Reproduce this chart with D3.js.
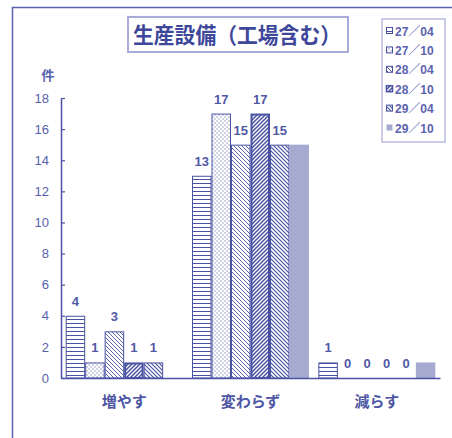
<!DOCTYPE html>
<html>
<head>
<meta charset="utf-8">
<script src="https://cdn.jsdelivr.net/npm/d3@7"></script>
<style>
  html, body { margin: 0; padding: 0; background: #fff; }
  svg { display: block; }
  text { font-family: "Liberation Sans", "Noto Sans CJK JP", sans-serif; }
  .jp { font-family: "Noto Sans CJK JP", sans-serif; }
</style>
</head>
<body>
<svg id="chart" width="452" height="438"></svg>
<script>
// 生産設備（工場含む）: responses per survey period
const categories = ["増やす", "変わらず", "減らす"];
const seriesNames = ["27／04", "27／10", "28／04", "28／10", "29／04", "29／10"];
const s2704 = [4, 13, 1];
const s2710 = [1, 17, 0];
const s2804 = [3, 15, 0];
const s2810 = [1, 17, 0];
const s2904 = [1, 15, 0];
const s2910 = [0, 15, 1];
const seriesValues = [s2704, s2710, s2804, s2810, s2904, s2910];
const labelled = [true, true, true, true, true, false];
const yTicks = [0, 2, 4, 6, 8, 10, 12, 14, 16, 18];

const ink = "#4a53a3";
const textInk = "#5660ad";
const lavender = "#a6a9d0";

const svg = d3.select("#chart");
const defs = svg.append("defs");

// fill patterns, one per period
function pattern(id, w, h, draw) {
  const p = defs.append("pattern").attr("id", id)
    .attr("patternUnits", "userSpaceOnUse").attr("width", w).attr("height", h);
  p.append("rect").attr("width", w).attr("height", h).attr("fill", "#fff");
  draw(p);
}
pattern("p0", 6, 4, p => p.append("line").attr("x1", 0).attr("x2", 6).attr("y1", 3.5).attr("y2", 3.5)
  .attr("stroke", ink).attr("stroke-width", 1));
pattern("p1", 4, 4, p => {
  p.append("rect").attr("x", 0.5).attr("y", 0.5).attr("width", 1).attr("height", 1).attr("fill", ink);
  p.append("rect").attr("x", 2.5).attr("y", 2.5).attr("width", 1).attr("height", 1).attr("fill", ink);
});
pattern("p2", 4, 4, p => {
  p.append("path").attr("d", "M-1,-1 L5,5 M-1,3 L1,5 M3,-1 L5,1")
    .attr("stroke", ink).attr("stroke-width", 0.9);
});
pattern("p3", 4, 4, p => {
  p.append("path").attr("d", "M-1,5 L5,-1 M-1,1 L1,-1 M3,5 L5,3")
    .attr("stroke", ink).attr("stroke-width", 1.5);
});
pattern("p4", 4, 4, p => {
  p.append("path").attr("d", "M-1,-1 L5,5 M-1,3 L1,5 M3,-1 L5,1")
    .attr("stroke", ink).attr("stroke-width", 1.2);
});
const fills = ["url(#p0)", "url(#p1)", "url(#p2)", "url(#p3)", "url(#p4)", lavender];
const strokes = [ink, ink, ink, ink, ink, "none"];
const strokeW = [1, 1, 1, 2, 1, 0];

// outer frame (left and top edges)
svg.append("path").attr("d", "M12.5,438 L12.5,7.5 L452,7.5")
  .attr("fill", "none").attr("stroke", "#5a62b0").attr("stroke-width", 1.5);

// title box
svg.append("rect").attr("x", 128).attr("y", 17).attr("width", 220).attr("height", 35)
  .attr("fill", "#fff").attr("stroke", "#a9acd8").attr("stroke-width", 2);
svg.append("text").attr("class", "jp").attr("x", 133).attr("y", 43)
  .attr("font-size", 22).attr("font-weight", "bold")
  .attr("textLength", 208).attr("lengthAdjust", "spacingAndGlyphs")
  .attr("fill", "#3e4799").text("生産設備（工場含む）");

// scales
const x0 = d3.scaleBand().domain(categories).range([61, 440]).padding(0);
const x1 = d3.scaleBand().domain(seriesNames).range([0, x0.bandwidth()]).paddingOuter(0.24).paddingInner(0);
const y = d3.scaleLinear().domain([0, 18]).range([378, 98]);

// y axis
const yAxis = svg.append("g").attr("transform", "translate(61,0)")
  .call(d3.axisLeft(y).tickValues(yTicks).tickSizeInner(-4).tickSizeOuter(0).tickPadding(12));
yAxis.select(".domain").attr("stroke", ink).attr("stroke-width", 1.5);
yAxis.selectAll(".tick line").attr("stroke", ink).attr("stroke-width", 1.2);
yAxis.selectAll(".tick text").attr("fill", textInk).attr("font-size", 13)
  .attr("font-family", "'Liberation Sans', sans-serif");

svg.append("text").attr("class", "jp").attr("x", 48).attr("y", 80)
  .attr("text-anchor", "middle").attr("font-size", 13).attr("font-weight", "bold")
  .attr("fill", textInk).text("件");

// bars
seriesNames.forEach((name, si) => {
  const g = svg.append("g");
  categories.forEach((cat, ci) => {
    const v = seriesValues[si][ci];
    const bx = x0(cat) + x1(name);
    const bw = x1.bandwidth();
    if (v > 0) {
      const inset = strokeW[si] / 2;
      g.append("rect")
        .attr("x", bx + inset).attr("y", y(v) + inset)
        .attr("width", bw - 2 * inset).attr("height", y(0) - y(v) - inset)
        .attr("fill", fills[si]).attr("stroke", strokes[si]).attr("stroke-width", strokeW[si]);
    }
    if (labelled[si]) {
      g.append("text").attr("x", bx + bw / 2).attr("y", y(v) - 10)
        .attr("text-anchor", "middle").attr("font-size", 13).attr("font-weight", "bold")
        .attr("fill", "#5158a6").text(v);
    }
  });
});

// x axis
const xAxis = svg.append("g").attr("transform", "translate(0,378)")
  .call(d3.axisBottom(x0).tickSize(0).tickPadding(18));
xAxis.select(".domain").attr("stroke", ink).attr("stroke-width", 1.5);
xAxis.selectAll(".tick text").attr("class", "jp").attr("fill", "#4d56a3")
  .attr("font-size", 15).attr("font-weight", "bold");

// legend
const lg = svg.append("g");
lg.append("rect").attr("x", 382).attr("y", 19).attr("width", 63).attr("height", 123)
  .attr("fill", "#fff").attr("stroke", "#b8bbe0").attr("stroke-width", 1.5);
seriesNames.forEach((name, si) => {
  const cy = 31 + si * 19.4;
  lg.append("rect").attr("x", 386.5).attr("y", cy - 3.5).attr("width", 6).attr("height", 6)
    .attr("fill", fills[si]).attr("stroke", si === 5 ? "none" : ink).attr("stroke-width", si === 3 ? 1.5 : 1);
  lg.append("text").attr("x", 395).attr("y", cy + 4.5)
    .attr("font-size", 12).attr("font-weight", "bold").attr("fill", "#5b63b0").text(name);
});
</script>
</body>
</html>
